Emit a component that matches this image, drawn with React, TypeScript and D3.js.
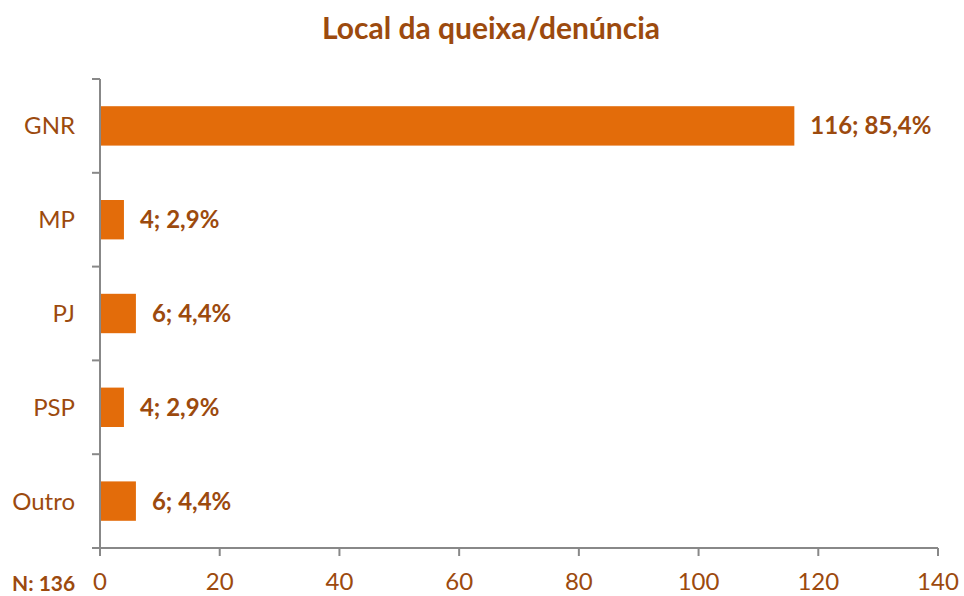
import { useEffect, useRef } from 'react'
import * as d3 from 'd3'

const categories = ['GNR', 'MP', 'PJ', 'PSP', 'Outro']
const counts = [116, 4, 6, 4, 6]
const percents = ['85,4%', '2,9%', '4,4%', '2,9%', '4,4%']
const xTicks = [0, 20, 40, 60, 80, 100, 120, 140]
const total = 'N: 136'

export default function App() {
  const svgRef = useRef<SVGSVGElement>(null)

  useEffect(() => {
    const width = 964, height = 596
    const left = 100, right = 938, top = 79, bottom = 548
    const font = 'Lato, "Open Sans", sans-serif'
    const brown = '#9C4A0E'
    const axisGrey = '#888888'

    const svg = d3.select(svgRef.current)
    svg.selectAll('*').remove()
    svg.attr('width', width).attr('height', height).style('background', '#fff')

    const x = d3.scaleLinear().domain([0, 140]).range([left, right])
    const y = d3.scaleBand<string>().domain(categories).range([top, bottom]).paddingInner(0.58).paddingOuter(0.29)
    const band = (bottom - top) / categories.length

    // title
    svg.append('text')
      .attr('x', 491).attr('y', 39)
      .attr('text-anchor', 'middle')
      .attr('fill', brown)
      .attr('font-family', font)
      .attr('font-weight', 'bold')
      .attr('font-size', '30px')
      .text('Local da queixa/denúncia')

    // bars
    svg.selectAll('.bar')
      .data(categories)
      .enter()
      .append('rect')
      .attr('x', x(0))
      .attr('y', d => y(d)!)
      .attr('width', (d, i) => x(counts[i]) - x(0))
      .attr('height', y.bandwidth())
      .attr('fill', '#E36C0A')

    // value labels
    svg.selectAll('.val')
      .data(categories)
      .enter()
      .append('text')
      .attr('x', (d, i) => x(counts[i]) + 16)
      .attr('y', d => y(d)! + y.bandwidth() / 2)
      .attr('dy', '0.35em')
      .attr('fill', brown)
      .attr('font-family', font)
      .attr('font-weight', 'bold')
      .attr('font-size', '24px')
      .text((d, i) => `${counts[i]}; ${percents[i]}`)

    // y axis
    const g = svg.append('g').attr('stroke', axisGrey).attr('stroke-width', 2)
    g.append('line').attr('x1', left).attr('x2', left).attr('y1', top).attr('y2', bottom + 7)
    for (let i = 0; i <= categories.length; i++) {
      const ty = top + i * band
      g.append('line').attr('x1', left - 8).attr('x2', left).attr('y1', ty).attr('y2', ty)
    }
    // x axis
    g.append('line').attr('x1', left - 8).attr('x2', right).attr('y1', bottom).attr('y2', bottom)
    xTicks.forEach(t => {
      g.append('line').attr('x1', x(t)).attr('x2', x(t)).attr('y1', bottom).attr('y2', bottom + 8)
    })

    // category labels
    svg.selectAll('.cat')
      .data(categories)
      .enter()
      .append('text')
      .attr('x', 75)
      .attr('y', d => y(d)! + y.bandwidth() / 2)
      .attr('dy', '0.35em')
      .attr('text-anchor', 'end')
      .attr('fill', brown)
      .attr('font-family', font)
      .attr('font-size', '24px')
      .text(d => d)

    // x tick labels
    svg.selectAll('.xt')
      .data(xTicks)
      .enter()
      .append('text')
      .attr('x', d => x(d))
      .attr('y', 590)
      .attr('text-anchor', 'middle')
      .attr('fill', brown)
      .attr('font-family', font)
      .attr('font-size', '24px')
      .text(d => d)

    svg.append('text')
      .attr('x', 12).attr('y', 591)
      .attr('fill', brown)
      .attr('font-family', font)
      .attr('font-weight', 'bold')
      .attr('font-size', '21px')
      .text(total)
  }, [])

  return (
    <div style={{ position: 'absolute', left: 0, top: 0 }}>
      <svg ref={svgRef} style={{ display: 'block' }} />
    </div>
  )
}
